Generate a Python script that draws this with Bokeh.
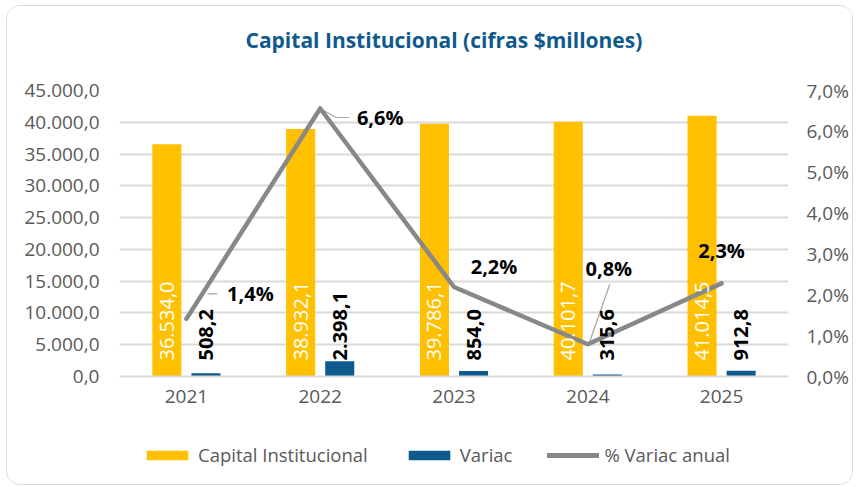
import math
from bokeh.plotting import figure
from bokeh.layouts import column
from bokeh.models import (ColumnDataSource, FactorRange, Range1d, LinearAxis,
                          CustomJSTickFormatter, LabelSet, Legend, LegendItem,
                          FixedTicker, Title)
from bokeh.transform import dodge
from bokeh.core.properties import value
from bokeh.embed import file_html
from bokeh.resources import INLINE

# ---------------- data ----------------
years = ["2021", "2022", "2023", "2024", "2025"]
capital = [36534.0, 38932.1, 39786.1, 40101.7, 41014.5]
variac = [508.2, 2398.1, 854.0, 315.6, 912.8]
pct_variac = [1.41, 6.56, 2.19, 0.79, 2.28]
left_ticks = [0, 5000, 10000, 15000, 20000, 25000, 30000, 35000, 40000, 45000]
right_ticks = [0, 1, 2, 3, 4, 5, 6, 7]
series_names = ["Capital Institucional", "Variac", "% Variac anual"]
title_text = "Capital Institucional (cifras $millones)"


def es_num(v, d=1):
    s = f"{v:,.{d}f}"
    return s.replace(",", "_").replace(".", ",").replace("_", ".")


# ---------------- layout / style ----------------
W = 845
H_MAIN, H_LEG = 415, 63
FL, FR, FT = 112, 64, 84
FB = H_MAIN - FT - 286
FW, FH = W - FL - FR, H_MAIN - FT - FB
FONT = "Open Sans"
YELLOW = "#FFC000"
BLUE = "#0F5A8C"
GRAY_LINE = "#888888"
TICK_COLOR = "#595959"
GRID = "#D9D9D9"
TITLE_COLOR = "#0F5A8C"

p = figure(width=W, height=H_MAIN, x_range=FactorRange(*years, range_padding=0),
           y_range=Range1d(0, 45000), output_backend="svg", toolbar_location=None,
           min_border_left=FL, min_border_right=FR, min_border_top=FT,
           min_border_bottom=FB, title=title_text)
p.extra_y_ranges = {"pct": Range1d(0, 7)}
p.outline_line_color = None
p.background_fill_color = "white"
p.border_fill_color = "white"

# real title (figure's own) + blank spacer between it and the frame
p.title.align = "left"
p.title.offset = 126
p.title.text_font = FONT
p.title.text_font_size = "21px"
p.title.text_font_style = "bold"
p.title.text_color = TITLE_COLOR
p.add_layout(Title(text=" ", text_font=FONT, text_font_size="15px"), "above")

# left axis
ya = p.yaxis[0]
ya.ticker = FixedTicker(ticks=left_ticks)
ya.formatter = CustomJSTickFormatter(code="""
    return tick.toFixed(1).replace('.', ',').replace(/\\B(?=(\\d{3})+(?!\\d))/g, '.');
""")
ya.axis_line_color = None
ya.major_tick_line_color = None
ya.minor_tick_line_color = None
ya.major_tick_out = 0
ya.major_tick_in = 0
ya.major_label_standoff = 20
ya.major_label_text_font = FONT
ya.major_label_text_font_size = "19px"
ya.major_label_text_color = TICK_COLOR

# right axis
ra = LinearAxis(y_range_name="pct", ticker=FixedTicker(ticks=right_ticks))
ra.formatter = CustomJSTickFormatter(code="return tick.toFixed(1).replace('.', ',') + '%';")
ra.axis_line_color = None
ra.major_tick_line_color = None
ra.minor_tick_line_color = None
ra.major_tick_out = 0
ra.major_tick_in = 0
ra.major_label_standoff = 18
ra.major_label_text_font = FONT
ra.major_label_text_font_size = "19px"
ra.major_label_text_color = TICK_COLOR
p.add_layout(ra, "right")

# x axis
xa = p.xaxis[0]
xa.axis_line_color = GRID
xa.axis_line_width = 2
xa.major_tick_line_color = None
xa.major_tick_out = 0
xa.major_tick_in = 0
xa.major_label_standoff = 13
xa.major_label_text_font = FONT
xa.major_label_text_font_size = "19px"
xa.major_label_text_color = TICK_COLOR

p.xgrid.grid_line_color = None
p.ygrid.ticker = FixedTicker(ticks=left_ticks)
p.ygrid.grid_line_color = GRID
p.ygrid.grid_line_width = 2

src = ColumnDataSource(dict(
    years=years, capital=capital, variac=variac, pct=pct_variac,
    cap_lbl=[es_num(v) for v in capital],
    var_lbl=[es_num(v) for v in variac],
    zero=[0] * len(years),
))

BAR_OFF = 0.146
BAR_W = 0.217
r_cap = p.vbar(x=dodge("years", -BAR_OFF, range=p.x_range), top="capital", width=BAR_W,
               source=src, fill_color=YELLOW, line_color=None)
r_var = p.vbar(x=dodge("years", BAR_OFF, range=p.x_range), top="variac", width=BAR_W,
               source=src, fill_color=BLUE, line_color=None)

# leader lines (pixel offsets from the data point converted to data units)
px_x = FW / len(years)
px_y = FH / 7.0
leaders = {
    0: [(21, 25), (31, 25)],
    1: [(0, 0), (16, -9), (29, -9)],
    3: [(1, 0), (22, 60)],
}
for i, pts in leaders.items():
    xs = [(years[i], dx / px_x) for dx, dy in pts]
    ys = [pct_variac[i] + dy / px_y for dx, dy in pts]
    p.line(x=xs, y=ys, y_range_name="pct", line_color="#A6A6A6", line_width=1.2)

r_line = p.line(x="years", y="pct", source=src, y_range_name="pct",
                line_color=GRAY_LINE, line_width=4.5, line_join="round", line_cap="round")

# data labels
cap_labels = LabelSet(x=dodge("years", -BAR_OFF, range=p.x_range), y="zero", text="cap_lbl",
                      source=src, angle=math.pi / 2, y_offset=16, text_align="left",
                      text_baseline="middle", text_color="white", text_font=value(FONT),
                      text_font_size="20px")
var_labels = LabelSet(x=dodge("years", BAR_OFF, range=p.x_range), y="zero", text="var_lbl",
                      source=src, angle=math.pi / 2, y_offset=16, text_align="left",
                      text_baseline="middle", text_color="black", text_font=value(FONT),
                      text_font_size="20px", text_font_style="bold")
p.add_layout(cap_labels)
p.add_layout(var_labels)

src_pct = ColumnDataSource(dict(
    years=years, pct=pct_variac, pct_lbl=[es_num(v, 1) + "%" for v in pct_variac],
    dx=[64, 60, 40, 21, 0], dy=[25, -9, 21, 76, 33],
))
pct_labels = LabelSet(x="years", y="pct", text="pct_lbl", source=src_pct, y_range_name="pct",
                      x_offset="dx", y_offset="dy", text_align="center", text_baseline="middle",
                      text_color="black", text_font=value(FONT), text_font_size="20px",
                      text_font_style="bold")
p.add_layout(pct_labels)

# ---------------- legend strip ----------------
lg = figure(width=W, height=H_LEG, x_range=(0, 1), y_range=(0, 1), output_backend="svg",
            toolbar_location=None, min_border=0, x_axis_location=None, y_axis_location=None)
lg.outline_line_color = None
lg.xgrid.grid_line_color = None
lg.ygrid.grid_line_color = None
lg.background_fill_color = "white"
lg.border_fill_color = "white"
# legend proxies: one NaN row each, so nothing is drawn but the swatches render
proxy = ColumnDataSource(dict(x=[float("nan")], y=[float("nan")]))
g1 = lg.vbar(x="x", top="y", width=1, source=proxy, fill_color=YELLOW, line_color=None)
g2 = lg.vbar(x="x", top="y", width=1, source=proxy, fill_color=BLUE, line_color=None)
g3 = lg.line(x="x", y="y", source=proxy, line_color=GRAY_LINE, line_width=5,
             line_cap="round")
legend = Legend(items=[LegendItem(label=series_names[0], renderers=[g1]),
                       LegendItem(label=series_names[1], renderers=[g2]),
                       LegendItem(label=series_names[2], renderers=[g3])],
                orientation="horizontal", location=(22, 17),
                padding=0, margin=0, spacing=35, label_standoff=5,
                glyph_width=52, glyph_height=12,
                label_text_font=FONT, label_text_font_size="18.5px",
                label_text_color=TICK_COLOR, border_line_color=None,
                background_fill_alpha=0)
lg.add_layout(legend, "center")

layout = column(p, lg, spacing=0)
layout.styles = {"border": "1px solid #D9D9D9", "border-radius": "14px",
                 "margin-left": "6px", "margin-top": "5px", "overflow": "hidden",
                 "background": "white"}

open("out.html", "w").write(file_html(layout, INLINE))
